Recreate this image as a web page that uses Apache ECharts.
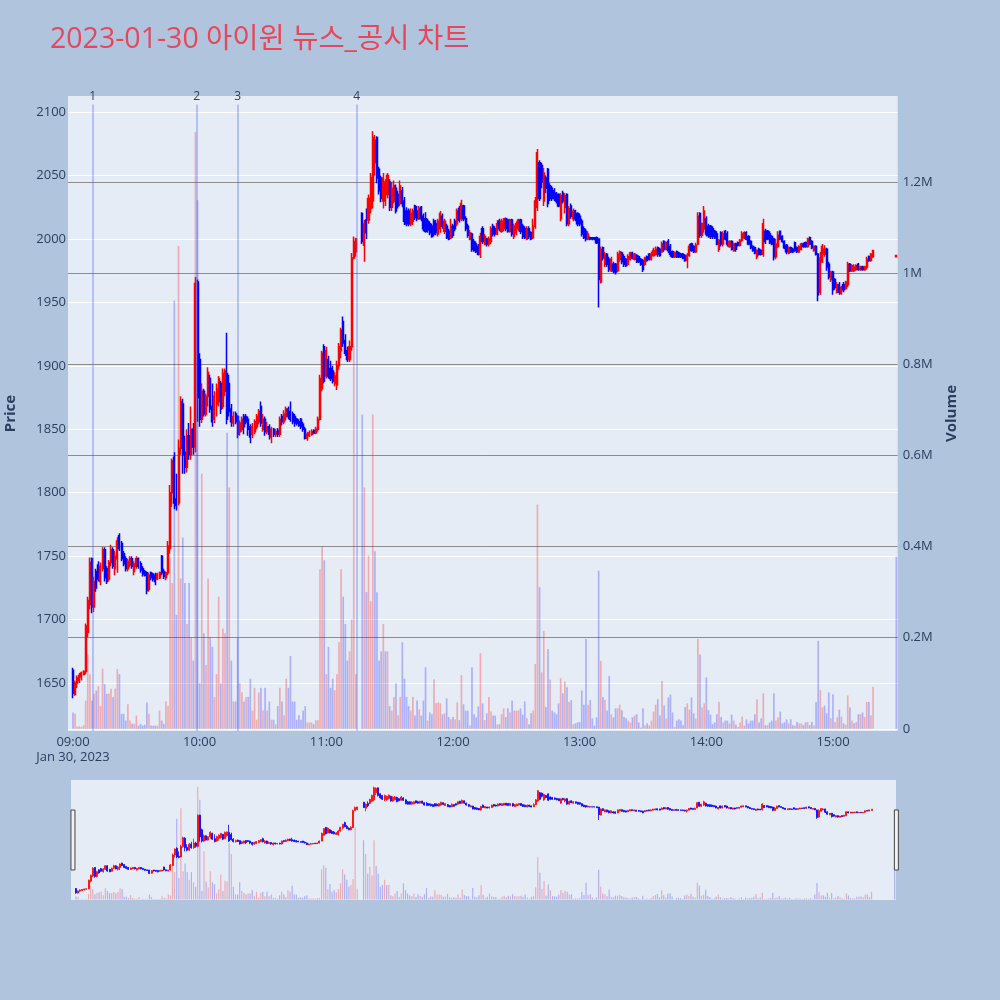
<!DOCTYPE html>
<html><head><meta charset="utf-8">
<script src="https://cdn.jsdelivr.net/npm/echarts@6/dist/echarts.min.js"></script>
<style>html,body{margin:0;padding:0;background:#b0c4de;}#chart{width:1000px;height:1000px;}</style>
</head><body><div id="chart"></div>
<script>
const titleText = '2023-01-30 아이윈 뉴스_공시 차트';
const dateLabel = 'Jan 30, 2023';
const hourTicks = ['09:00','10:00','11:00','12:00','13:00','14:00','15:00'];
const newsTimes = ['09:09:20','09:58:36','10:18:00','11:14:24'];
const newsLabels = ['1','2','3','4'];

const times = [
"09:00","09:01","09:02","09:03","09:04","09:05","09:06","09:07","09:08","09:09","09:10","09:11","09:12","09:13","09:14","09:15","09:16","09:17","09:18","09:19",
"09:20","09:21","09:22","09:23","09:24","09:25","09:26","09:27","09:28","09:29","09:30","09:31","09:32","09:33","09:34","09:35","09:36","09:37","09:38","09:39",
"09:40","09:41","09:42","09:43","09:44","09:45","09:46","09:47","09:48","09:49","09:50","09:51","09:52","09:53","09:54","09:55","09:56","09:57","09:58","09:59",
"10:00","10:01","10:02","10:03","10:04","10:05","10:06","10:07","10:08","10:09","10:10","10:11","10:12","10:13","10:14","10:15","10:16","10:17","10:18","10:19",
"10:20","10:21","10:22","10:23","10:24","10:25","10:26","10:27","10:28","10:29","10:30","10:31","10:32","10:33","10:34","10:35","10:36","10:37","10:38","10:39",
"10:40","10:41","10:42","10:43","10:44","10:45","10:46","10:47","10:48","10:49","10:50","10:51","10:52","10:53","10:54","10:55","10:56","10:57","10:58","10:59",
"11:00","11:01","11:02","11:03","11:04","11:05","11:06","11:07","11:08","11:09","11:10","11:11","11:12","11:13","11:14","11:17","11:18","11:19",
"11:20","11:21","11:22","11:23","11:24","11:25","11:26","11:27","11:28","11:29","11:30","11:31","11:32","11:33","11:34","11:35","11:36","11:37","11:38","11:39",
"11:40","11:41","11:42","11:43","11:44","11:45","11:46","11:47","11:48","11:49","11:50","11:51","11:52","11:53","11:54","11:55","11:56","11:57","11:58","11:59",
"12:00","12:01","12:02","12:03","12:04","12:05","12:06","12:07","12:08","12:09","12:10","12:11","12:12","12:13","12:14","12:15","12:16","12:17","12:18","12:19",
"12:20","12:21","12:22","12:23","12:24","12:25","12:26","12:27","12:28","12:29","12:30","12:31","12:32","12:33","12:34","12:35","12:36","12:37","12:38","12:39",
"12:40","12:41","12:42","12:43","12:44","12:45","12:46","12:47","12:48","12:49","12:50","12:51","12:52","12:53","12:54","12:55","12:56","12:57","12:58","12:59",
"13:00","13:01","13:02","13:03","13:04","13:05","13:06","13:07","13:08","13:09","13:10","13:11","13:12","13:13","13:14","13:15","13:16","13:17","13:18","13:19",
"13:20","13:21","13:22","13:23","13:24","13:25","13:26","13:27","13:28","13:29","13:30","13:31","13:32","13:33","13:34","13:35","13:36","13:37","13:38","13:39",
"13:40","13:41","13:42","13:43","13:44","13:45","13:46","13:47","13:48","13:49","13:50","13:51","13:52","13:53","13:54","13:55","13:56","13:57","13:58","13:59",
"14:00","14:01","14:02","14:03","14:04","14:05","14:06","14:07","14:08","14:09","14:10","14:11","14:12","14:13","14:14","14:15","14:16","14:17","14:18","14:19",
"14:20","14:21","14:22","14:23","14:24","14:25","14:26","14:27","14:28","14:29","14:30","14:31","14:32","14:33","14:34","14:35","14:36","14:37","14:38","14:39",
"14:40","14:41","14:42","14:43","14:44","14:45","14:46","14:47","14:48","14:49","14:50","14:51","14:52","14:53","14:54","14:55","14:56","14:57","14:58","14:59",
"15:00","15:01","15:02","15:03","15:04","15:05","15:06","15:07","15:08","15:09","15:10","15:11","15:12","15:13","15:14","15:15","15:16","15:17","15:18","15:19",
"15:30"];

const opens = [
1660,1641,1650,1652,1655,1657,1659,1690,1712,1748, 1710,1738,1743,1730,1740,1755,1740,1732,1745,1755,
1740,1748,1766,1760,1752,1748,1740,1743,1748,1738, 1742,1748,1744,1740,1738,1737,1724,1737,1736,1735,
1732,1733,1750,1738,1733,1737,1756,1800,1828,1795, 1792,1835,1870,1832,1820,1845,1830,1850,1836,1966,
1905,1858,1880,1862,1876,1890,1868,1858,1870,1872, 1886,1868,1880,1894,1886,1866,1855,1862,1860,1848,
1850,1860,1860,1858,1852,1846,1848,1852,1856,1868, 1850,1858,1848,1852,1844,1850,1846,1849,1846,1860,
1856,1860,1866,1864,1862,1860,1858,1856,1858,1854, 1850,1843,1845,1846,1849,1847,1850,1858,1882,1915,
1892,1905,1898,1896,1886,1885,1900,1912,1935,1920, 1912,1905,1915,1985,1990, 2020,1995,2015,
2015,2024,2030,2060,2080,2055,2048,2030,2030,2035, 2045,2025,2030,2040,2035,2028,2038,2030,2022,2022,
2012,2014,2026,2022,2016,2025,2018,2016,2014,2012, 2010,2014,2012,2004,2008,2018,2006,2010,2006,2001,
2010,2014,2012,2024,2016,2026,2016,2010,2000,2004, 1998,1996,1994,1988,2008,1996,2000,1996,1998,2010,
2008,2004,2014,2006,2008,2016,2015,2006,2015,2002, 2005,2008,2015,2010,2008,2000,2008,2005,2001,2010,
2025,2060,2058,2030,2048,2055,2042,2040,2038,2036, 2035,2016,2036,2025,2035,2012,2026,2016,2022,2020,
2018,2014,2008,2006,2000,2001,2001,2001,2001,2000, 1966,1993,1980,1988,1984,1975,1980,1980,1975,1984,
1989,1986,1984,1980,1984,1989,1984,1987,1986,1984, 1983,1980,1986,1988,1984,1987,1988,1993,1992,1990,
1998,1992,1998,1994,1990,1986,1990,1989,1988,1988, 1987,1983,1987,1996,1994,1990,1996,2020,2003,2008,
2016,2010,2010,2008,2006,2004,1992,2005,1996,2006, 2004,1994,1998,1991,1996,1997,1995,1999,2001,2005,
2002,1998,1994,1993,1986,1992,1991,1988,2006,2006, 2004,2002,2000,1986,1994,2006,2002,1998,1995,1989,
1993,1992,1997,1993,1990,1992,1996,1997,1994,2001, 1998,1991,1994,1988,1958,1982,1988,1992,1980,1968,
1974,1968,1958,1964,1957,1964,1961,1964,1980,1975, 1975,1976,1980,1976,1978,1976,1978,1986,1983,1986,
1986];

const closes = [
1642,1650,1654,1656,1658,1659,1695,1715,1745,1710, 1730,1725,1732,1742,1755,1733,1730,1745,1755,1742,
1750,1762,1756,1748,1744,1740,1746,1748,1742,1744, 1748,1742,1739,1736,1735,1723,1735,1733,1732,1730,
1736,1737,1737,1734,1737,1758,1800,1825,1792,1790, 1835,1872,1830,1820,1845,1830,1850,1836,1965,1875,
1858,1880,1862,1876,1895,1866,1856,1876,1882,1890, 1866,1894,1896,1858,1864,1856,1860,1856,1846,1855,
1858,1852,1856,1850,1844,1852,1856,1860,1864,1855, 1858,1848,1852,1846,1850,1846,1848,1846,1858,1856,
1862,1866,1860,1858,1856,1855,1855,1853,1852,1850, 1843,1846,1847,1848,1847,1850,1858,1890,1910,1888,
1912,1892,1890,1888,1892,1900,1915,1928,1918,1910, 1905,1915,1985,1998,2000, 1998,2012,2005,
2032,2048,2080,2078,2048,2038,2032,2048,2045,2050, 2025,2040,2042,2022,2026,2042,2028,2014,2012,2012,
2020,2022,2017,2016,2024,2016,2008,2006,2007,2005, 2002,2004,2005,2014,2020,2010,2014,2001,2000,2010,
2003,2008,2022,2015,2028,2016,2008,2003,2005,1992, 1991,1990,1988,2002,1998,2002,1996,2000,2008,2004,
2004,2012,2008,2014,2016,2008,2006,2015,2004,2010, 2012,2015,2006,2002,2001,2008,2002,2000,2010,2030,
2068,2032,2045,2052,2040,2028,2032,2032,2032,2030, 2026,2034,2030,2034,2012,2024,2018,2022,2016,2012,
2012,2004,2001,2000,2004,2000,2000,2000,1997,1968, 1992,1985,1988,1980,1976,1984,1975,1974,1988,1990,
1982,1980,1979,1986,1989,1985,1988,1982,1982,1980, 1976,1985,1983,1984,1988,1991,1992,1988,1987,1996,
1992,1997,1991,1988,1986,1989,1986,1986,1986,1985, 1983,1987,1994,1991,1990,1995,2018,2003,2012,2022,
2004,2003,2002,2002,2001,1996,1999,1996,2004,2000, 1996,1998,1992,1996,1992,1995,1999,2004,2005,2000,
1996,1993,1991,1989,1991,1988,1988,2012,1998,2000, 1997,1996,1986,1996,2003,2000,1998,1993,1990,1993,
1990,1990,1991,1990,1994,1996,1994,1994,2000,1996, 1993,1994,1988,1956,1985,1994,1992,1978,1970,1974,
1960,1962,1964,1958,1962,1960,1966,1980,1975,1979, 1978,1979,1976,1978,1976,1978,1984,1983,1988,1991,
1987];

const lows = [
1638,1640,1646,1650,1652,1656,1657,1686,1708,1705, 1706,1722,1730,1727,1738,1730,1728,1730,1742,1740,
1735,1737,1754,1746,1742,1738,1738,1741,1740,1735, 1740,1740,1737,1734,1734,1720,1722,1731,1730,1727,
1731,1732,1735,1732,1731,1735,1752,1789,1787,1786, 1790,1830,1815,1815,1816,1826,1826,1830,1832,1856,
1852,1855,1860,1860,1868,1863,1852,1855,1860,1868, 1862,1866,1876,1854,1860,1852,1852,1854,1843,1845,
1848,1846,1854,1845,1839,1843,1846,1850,1854,1852, 1848,1845,1846,1842,1839,1844,1844,1844,1844,1853,
1854,1857,1858,1856,1854,1852,1853,1852,1850,1848, 1842,1841,1844,1845,1846,1846,1848,1857,1880,1886,
1890,1890,1888,1886,1884,1881,1897,1906,1915,1908, 1903,1903,1912,1984,1986, 1996,1982,2000,
2012,2020,2024,2050,2044,2035,2029,2024,2026,2032, 2022,2022,2028,2020,2024,2026,2025,2011,2010,2010,
2010,2011,2015,2014,2015,2014,2006,2005,2005,2003, 2001,2002,2003,2002,2005,2008,2004,2000,1999,2000,
2001,2006,2010,2013,2014,2014,2006,2001,1999,1990, 1990,1989,1987,1985,1996,1995,1994,1994,1996,2002,
2002,2003,2006,2005,2006,2006,2005,2005,2002,2000, 2003,2006,2004,2000,2000,1999,2000,1999,2000,2008,
2022,2030,2040,2026,2036,2025,2030,2030,2030,2028, 2025,2014,2028,2020,2010,2010,2016,2014,2014,2010,
2010,2002,2000,1998,1999,1999,1999,1999,1996,1946, 1965,1983,1978,1978,1974,1974,1973,1972,1974,1982,
1980,1978,1978,1979,1983,1984,1983,1981,1981,1979, 1974,1979,1982,1983,1983,1986,1987,1986,1986,1989,
1990,1991,1989,1986,1985,1985,1985,1985,1985,1984, 1982,1977,1986,1990,1989,1989,1995,2001,2001,2005,
2002,2001,2000,2000,2000,1995,1990,1994,1994,1999, 1994,1993,1991,1990,1990,1994,1994,1998,2000,1999,
1995,1992,1990,1988,1984,1987,1987,1986,1996,1999, 1996,1995,1983,1984,1993,1999,1997,1992,1988,1988,
1989,1989,1990,1989,1989,1991,1993,1993,1993,1995, 1992,1990,1987,1951,1956,1981,1986,1975,1968,1966,
1956,1960,1957,1956,1956,1958,1960,1962,1974,1974, 1974,1975,1975,1975,1975,1975,1976,1982,1982,1985,
1986];

const highs = [
1662,1652,1656,1658,1659,1660,1697,1718,1749,1749, 1734,1740,1746,1745,1757,1757,1742,1747,1759,1757,
1754,1765,1768,1762,1754,1750,1748,1750,1750,1746, 1750,1749,1746,1742,1739,1738,1737,1738,1737,1737,
1737,1738,1751,1740,1738,1762,1806,1827,1832,1815, 1842,1876,1874,1845,1850,1855,1868,1855,1970,1968,
1910,1886,1882,1878,1899,1893,1886,1880,1886,1892, 1888,1898,1898,1926,1893,1870,1864,1864,1861,1857,
1860,1862,1862,1860,1854,1855,1858,1862,1866,1872, 1862,1860,1856,1854,1852,1851,1850,1851,1860,1862,
1865,1868,1868,1872,1864,1862,1859,1858,1859,1856, 1852,1848,1849,1850,1850,1852,1860,1893,1912,1917,
1915,1908,1904,1900,1895,1904,1918,1930,1939,1925, 1915,1920,1989,2002,2001, 2021,2015,2024,
2035,2052,2085,2082,2081,2057,2050,2052,2047,2052, 2047,2045,2046,2043,2038,2046,2041,2033,2025,2024,
2024,2024,2027,2026,2026,2026,2020,2021,2016,2014, 2012,2016,2015,2016,2022,2020,2016,2012,2008,2016,
2012,2016,2024,2026,2031,2027,2018,2012,2007,2005, 2000,1998,1996,2005,2010,2004,2001,2002,2010,2012,
2010,2015,2016,2016,2016,2017,2016,2016,2016,2012, 2014,2016,2016,2012,2010,2010,2010,2006,2016,2033,
2071,2062,2060,2056,2050,2056,2044,2042,2040,2037, 2036,2036,2038,2036,2036,2026,2028,2024,2023,2021,
2020,2016,2010,2008,2006,2002,2001,2001,2002,2000, 1994,1994,1990,1989,1986,1986,1982,1981,1990,1991,
1990,1988,1985,1988,1990,1990,1989,1988,1987,1985, 1984,1986,1987,1989,1990,1993,1994,1994,1993,1998,
1999,1998,2000,1996,1991,1990,1991,1990,1989,1989, 1988,1989,1996,1997,1995,1997,2021,2021,2013,2026,
2018,2012,2011,2010,2007,2006,2000,2006,2006,2007, 2006,1999,1999,1997,1997,1998,2000,2006,2006,2006,
2003,1999,1995,1994,1992,1993,1992,2016,2008,2007, 2006,2003,2001,2000,2006,2006,2003,1999,1996,1994,
1994,1993,1998,1994,1995,1997,1997,1998,2001,2002, 1999,1995,1995,1989,1990,1996,1995,1993,1982,1975,
1975,1969,1966,1966,1963,1966,1967,1982,1981,1980, 1980,1980,1981,1979,1979,1979,1986,1987,1989,1991,
1987];

const volumes = [
36000,33000,5000,6000,4000,8000,62000,164000,120000,62000, 77000,84000,94000,50000,132000,98000,77000,77000,88000,70000,
88000,131000,120000,33000,33000,18000,54000,18000,11000,11000, 29000,7000,11000,7000,9000,58000,33000,7000,7000,7000,
7000,40000,18000,11000,60000,50000,376000,320000,940000,250000, 1060000,330000,420000,320000,230000,320000,200000,150000,1310000,1160000,
100000,560000,210000,140000,330000,200000,180000,70000,120000,290000, 100000,220000,210000,650000,530000,150000,60000,60000,200000,100000,
80000,60000,70000,70000,110000,40000,90000,20000,80000,90000, 40000,90000,40000,60000,20000,20000,10000,50000,90000,60000,
30000,110000,90000,160000,60000,60000,20000,30000,20000,40000, 50000,14000,14000,14000,10000,19000,19000,350000,400000,370000,
120000,180000,90000,110000,85000,120000,190000,350000,290000,230000, 150000,170000,240000,840000,120000, 690000,530000,300000,
380000,280000,690000,390000,300000,150000,170000,230000,170000,170000, 50000,40000,70000,100000,30000,70000,190000,110000,70000,50000,
40000,70000,29000,62000,43000,29000,62000,135000,18000,36000, 32000,109000,56000,58000,56000,32000,34000,67000,26000,21000,
26000,21000,58000,19000,118000,54000,40000,40000,7000,135000, 32000,25000,49000,166000,56000,19000,34000,70000,38000,29000,
29000,10000,10000,32000,45000,26000,45000,36000,62000,40000, 40000,40000,45000,31000,60000,23000,10000,34000,40000,142000,
492000,311000,124000,215000,48000,175000,108000,40000,36000,32000, 56000,111000,78000,104000,91000,59000,63000,10000,12000,14000,
15000,84000,53000,197000,53000,63000,23000,7000,25000,347000, 149000,70000,63000,40000,116000,32000,25000,45000,45000,53000,
41000,26000,23000,18000,14000,25000,29000,32000,14000,3000, 45000,8000,12000,7000,18000,38000,53000,65000,29000,105000,
51000,23000,69000,75000,36000,4000,18000,21000,18000,8000, 48000,56000,42000,69000,34000,23000,197000,163000,47000,56000,
113000,41000,31000,10000,14000,32000,59000,26000,14000,18000, 18000,12000,31000,18000,9000,4000,14000,27000,7000,21000,
12000,18000,18000,32000,65000,14000,23000,78000,8000,8000, 14000,18000,78000,18000,25000,38000,12000,14000,21000,12000,
21000,8000,7000,15000,12000,12000,8000,14000,15000,8000, 15000,7000,59000,193000,85000,47000,51000,34000,80000,23000,
76000,15000,25000,42000,27000,12000,9000,73000,47000,18000, 12000,15000,32000,32000,36000,26000,59000,59000,30000,92000,
378000];

// ---- layout constants (pixels / axis ranges) ----
const XMIN = -2.37, XMAX = 390.66;
const PMIN = 1612.2, PMAX = 2112.7;
const VMIN = -4800, VMAX = 1389000;
const LINE_TOP = 2106;
const FONT = '"Open Sans", "Noto Sans CJK KR", sans-serif';
const TXT = '#2a3f5f';

const toMin = s => { const p = s.split(':').map(Number); return (p[0] - 9) * 60 + p[1] + (p[2] || 0) / 60; };
const xs = times.map(toMin);
const candles = xs.map((x, i) => [x, opens[i], closes[i], lows[i], highs[i]]);
const isUp = i => {
  const prev = i > 0 ? closes[i - 1] : opens[i];
  if (closes[i] !== prev) return closes[i] > prev;
  return closes[i] >= opens[i];
};
const volData = xs.map((x, i) => ({
  value: [x, volumes[i]],
  itemStyle: { color: isUp(i) ? 'rgba(255,0,0,0.27)' : 'rgba(0,0,255,0.25)' }
}));
const newsLines = newsTimes.map((t, i) => {
  const x = toMin(t);
  return [{ coord: [x, PMIN], name: newsLabels[i] }, { coord: [x, LINE_TOP], name: newsLabels[i] }];
});
const candleStyle = { color: 'red', color0: 'blue', borderColor: 'red', borderColor0: 'blue', borderColorDoji: 'red' };
const noAxisParts = { axisLine: { show: false }, axisTick: { show: false }, axisLabel: { show: false }, splitLine: { show: false } };
const gridBase = { containLabel: false, outerBoundsMode: 'none' };

const chart = echarts.init(document.getElementById('chart'));
chart.setOption({
  backgroundColor: '#b0c4de',
  animation: false,
  textStyle: { fontFamily: FONT },
  title: {
    text: titleText, left: 50, top: 23, padding: 0,
    textStyle: { fontFamily: FONT, fontSize: 28.5, fontWeight: 'normal', color: '#e8465a', lineHeight: 34 }
  },
  grid: [
    Object.assign({ left: 68, right: 102.3, top: 96, height: 635, show: true, backgroundColor: '#e5ecf6', borderWidth: 0 }, gridBase),
    Object.assign({ left: 68, right: 102.3, top: 112.1, height: 570.9 }, gridBase),
    Object.assign({ left: 68, right: 102.3, top: 182.2, height: 546.6 }, gridBase),
    Object.assign({ left: 73, right: 167, top: 96, height: 635 }, gridBase),
    Object.assign({ left: 71, right: 104, top: 780, height: 120, show: true, backgroundColor: '#e5ecf6', borderWidth: 0 }, gridBase)
  ],
  xAxis: [
    Object.assign({ gridIndex: 0, type: 'value', min: XMIN, max: XMAX, scale: true }, noAxisParts),
    { gridIndex: 1, type: 'value', min: 0, max: 1, show: false },
    { gridIndex: 2, type: 'value', min: 0, max: 1, show: false },
    { gridIndex: 3, type: 'value', min: 0, max: 360, interval: 60,
      axisLine: { show: false }, axisTick: { show: false }, splitLine: { show: false },
      axisLabel: { margin: 4, fontSize: 13, color: TXT, lineHeight: 15, fontFamily: FONT,
        formatter: v => { const s = hourTicks[Math.round(v / 60)]; return v === 0 ? s + '\n' + dateLabel : s; } } },
    Object.assign({ gridIndex: 4, type: 'value', min: XMIN, max: XMAX, scale: true }, noAxisParts)
  ],
  yAxis: [
    Object.assign({ gridIndex: 0, type: 'value', min: PMIN, max: PMAX, scale: true, name: 'Price', nameLocation: 'middle', nameGap: 50, nameRotate: 90,
      nameTextStyle: { fontFamily: FONT, fontSize: 15, fontWeight: 'bold', color: TXT } }, noAxisParts),
    Object.assign({ gridIndex: 0, type: 'value', min: VMIN, max: VMAX, scale: true, position: 'right', name: 'Volume', nameLocation: 'middle', nameGap: 47, nameRotate: 90,
      nameTextStyle: { fontFamily: FONT, fontSize: 15, fontWeight: 'bold', color: TXT } }, noAxisParts),
    { gridIndex: 1, type: 'value', min: 1650, max: 2100, interval: 50,
      axisLine: { show: false }, axisTick: { show: false },
      axisLabel: { margin: 2, fontSize: 13, color: TXT, fontFamily: FONT, formatter: v => String(v) },
      splitLine: { lineStyle: { color: '#ffffff', width: 1 } } },
    { gridIndex: 2, type: 'value', min: 0, max: 1200000, interval: 200000, position: 'right',
      axisLine: { show: false }, axisTick: { show: false },
      axisLabel: { margin: 5, fontSize: 13, color: TXT, fontFamily: FONT, formatter: v => v === 0 ? '0' : (v / 1e6) + 'M' },
      splitLine: { lineStyle: { color: ['#ffffff', '#8c8c8c', '#8c8c8c', '#8c8c8c', '#8c8c8c', '#8c8c8c', '#8c8c8c'], width: 1 } } },
    { gridIndex: 3, type: 'value', min: 0, max: 1, show: false },
    Object.assign({ gridIndex: 4, type: 'value', min: PMIN, max: PMAX, scale: true }, noAxisParts),
    Object.assign({ gridIndex: 4, type: 'value', min: VMIN, max: VMAX, scale: true }, noAxisParts)
  ],
  dataZoom: [{
    type: 'slider', xAxisIndex: 4, filterMode: 'none', start: 0, end: 100,
    left: 71.4, right: 103.2, top: 780, height: 120,
    showDataShadow: false, showDetail: false, brushSelect: false, zoomLock: true,
    backgroundColor: 'rgba(0,0,0,0)', borderColor: 'rgba(0,0,0,0)', fillerColor: 'rgba(0,0,0,0)',
    handleIcon: 'path://M0,0 L4,0 L4,60 L0,60 Z', handleSize: '50%',
    handleStyle: { color: '#f2f2f2', borderColor: '#444', borderWidth: 1 },
    moveHandleSize: 0
  }],
  series: [
    { type: 'bar', xAxisIndex: 0, yAxisIndex: 1, data: volData, barWidth: 1.7, z: 2, silent: true },
    { type: 'candlestick', xAxisIndex: 0, yAxisIndex: 0, data: candles, encode: { x: 0, y: [1, 2, 3, 4] },
      barWidth: 1.6, z: 3, silent: true, itemStyle: Object.assign({ borderWidth: 1.5 }, candleStyle) },
    { type: 'line', xAxisIndex: 0, yAxisIndex: 0, data: [], z: 4,
      markLine: { silent: true, symbol: ['none', 'none'], animation: false,
        lineStyle: { color: 'rgba(60,90,255,0.3)', width: 2, type: 'solid' },
        label: { show: true, position: 'end', distance: 2, formatter: p => p.name, color: TXT, fontSize: 12, fontFamily: FONT },
        emphasis: { disabled: true },
        data: newsLines } },
    { type: 'bar', xAxisIndex: 4, yAxisIndex: 6, data: volData, barWidth: 1.2, z: 2, silent: true },
    { type: 'candlestick', xAxisIndex: 4, yAxisIndex: 5, data: candles, encode: { x: 0, y: [1, 2, 3, 4] },
      barWidth: 1.5, z: 3, silent: true, itemStyle: Object.assign({ borderWidth: 0.8 }, candleStyle) }
  ]
});
</script>
</body></html>
